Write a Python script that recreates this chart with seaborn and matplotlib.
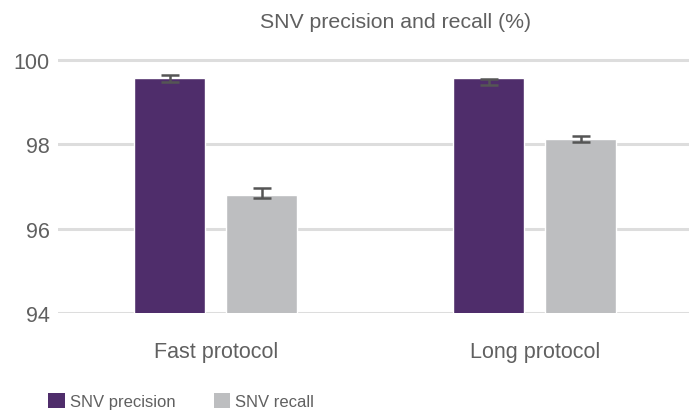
import matplotlib
matplotlib.use("Agg")
import matplotlib.pyplot as plt
import seaborn as sns
import pandas as pd
import numpy as np
from matplotlib.patches import Patch

protocols = ["Fast protocol", "Long protocol"]
metrics = ["SNV precision", "SNV recall"]
precision = [99.57, 99.57]
recall = [96.80, 98.13]
precision_err_mean = [99.57, 99.48]
recall_err_mean = [96.84, 98.13]
precision_err = [0.08, 0.08]
recall_err = [0.12, 0.08]
yticks = [94, 96, 98, 100]

colors = {"SNV precision": "#4F2D6B", "SNV recall": "#BDBEC0"}
text_color = "#606060"

df = pd.DataFrame({
    "protocol": protocols * 2,
    "metric": [metrics[0]] * 2 + [metrics[1]] * 2,
    "value": precision + recall,
})

sns.set_theme(style="white")
plt.rcParams["font.family"] = ["Liberation Sans", "DejaVu Sans"]

fig = plt.figure(figsize=(6.89, 4.14), dpi=100)
W, H = 689, 414
ax = fig.add_axes([58 / W, 1 - 314 / H, 1 - 58 / W, (314 - 57) / H])

sns.barplot(data=df, x="protocol", y="value", hue="metric", order=protocols,
            hue_order=metrics, palette=colors, errorbar=None, width=0.577,
            gap=0.228, ax=ax, legend=False, saturation=1)

ax.set_ylim(94, 100.1)
ax.set_xlim(-0.495, 1.483)

err_means = [precision_err_mean, recall_err_mean]
err_vals = [precision_err, recall_err]
for cont, m, e in zip(ax.containers, err_means, err_vals):
    xs = [p.get_x() + p.get_width() / 2 for p in cont.patches]
    ax.errorbar(xs, m, yerr=e, fmt="none", ecolor="#555555", elinewidth=1.8,
                capsize=6.2, capthick=1.8, zorder=5)

ax.set_yticks(yticks)
ax.set_yticklabels([str(t) for t in yticks])
ax.yaxis.grid(True, color="#DDDDDD", linewidth=2.2)
ax.set_axisbelow(True)
for s in ax.spines.values():
    s.set_visible(False)
ax.tick_params(axis="y", length=0, pad=6, labelsize=15.5, labelcolor=text_color)
ax.tick_params(axis="x", length=0, pad=20, labelsize=15.5, labelcolor=text_color)
ax.set_xlabel("")
ax.set_ylabel("")

fig.text(396 / W, 1 - 22 / H, "SNV precision and recall (%)", ha="center",
         va="center", fontsize=15.3, color=text_color)

handles = [Patch(facecolor=colors[m], edgecolor="none", label=m) for m in metrics]
fig.legend(handles=handles, loc="center left", bbox_to_anchor=(48 / W, 1 - 402 / H),
           ncol=2, frameon=False, handlelength=1.0, handleheight=1.0,
           handletextpad=0.3, columnspacing=2.3, fontsize=12,
           borderpad=0, borderaxespad=0, labelcolor=text_color)

fig.savefig("out.png", dpi=100)
